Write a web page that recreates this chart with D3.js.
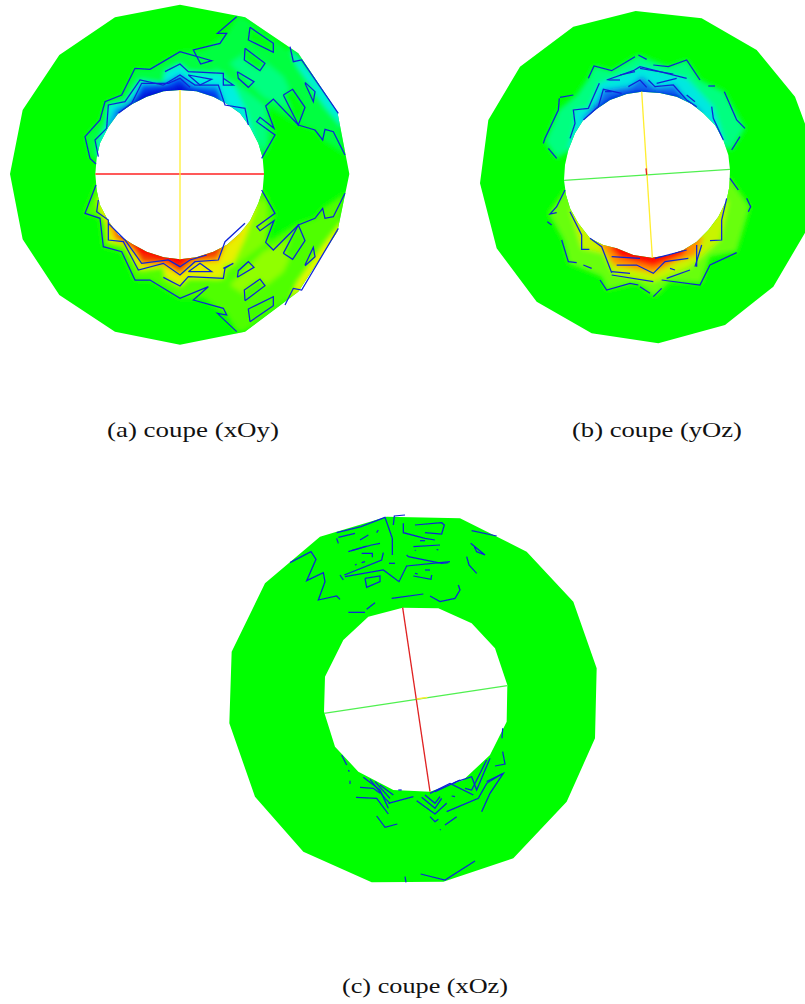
<!DOCTYPE html>
<html><head><meta charset="utf-8">
<script src="https://cdn.jsdelivr.net/npm/d3@7"></script>
<style>html,body{margin:0;padding:0;background:#fff;overflow:hidden}svg{display:block}</style>
</head><body><svg id="c" width="805" height="1004"></svg>
<script>
// ---------- Panel (a) section xOy, values in image-sample units ----------
const aOuter=[[540,14],[735,52],[895,160],[1012,335],[1048,522],[1012,695],[895,875],[735,995],[540,1034],[345,995],[178,885],[68,718],[30,522],[68,330],[178,165],[345,52]];
const aInner=[[540,270],[589,274],[640,290],[681,312],[720,340],[750,381],[775,430],[788,473],[792,522],[788,571],[775,610],[750,663],[720,700],[681,734],[640,755],[589,772],[540,778],[491,772],[440,755],[397,732],[355,705],[325,663],[300,615],[290,571],[286,522],[290,473],[300,430],[325,381],[355,340],[397,312],[440,290],[491,274]];
const aAxes=[{color:"#ff2020",from:[286,522],to:[792,522]},{color:"#ffee30",from:[540,270],to:[540,778]}];
const aBands=[
 {color:"#00ff40",poly:[[710,50],[680,100],[610,150],[540,155],[450,208],[405,205],[365,285],[315,305],[300,360],[255,410],[270,475],[785,475],[825,405],[800,318],[895,375],[945,390],[968,420],[1035,465],[1015,340],[905,180],[735,52]]},
 {color:"#00f0d8",poly:[[870,140],[905,180],[1030,340],[1030,385],[975,320],[890,195]]},
 {color:"#00ff80",poly:[[690,190],[790,290],[900,340],[850,230],[750,150]]},
 {color:"#00ff80",poly:[[640,200],[800,320],[800,460],[700,330]]},
 {color:"#00f0e0",poly:[[295,475],[295,425],[320,370],[325,315],[375,305],[420,240],[490,250],[495,215],[540,192],[565,215],[670,222],[672,255],[700,255],[735,325],[775,450],[680,400],[540,350],[400,400]]},
 {color:"#0098f0",poly:[[320,385],[345,325],[395,310],[425,250],[490,250],[540,222],[585,255],[655,255],[675,315],[720,340],[660,380],[540,340],[420,380]]},
 {color:"#0040f0",poly:[[345,345],[395,300],[425,258],[505,250],[540,232],[570,258],[650,270],[670,305],[640,340],[540,330],[420,380]]},
 {color:"#0010d8",poly:[[360,338],[405,298],[440,275],[520,262],[540,250],[565,268],[640,290],[640,340],[540,330],[440,350]]},
 {color:"#00ff10",poly:[[750,82],[820,130],[820,157],[745,120]]},
 {color:"#00ff10",poly:[[735,145],[795,190],[780,212],[733,180]]},
 {color:"#00ff10",poly:[[850,285],[878,268],[915,322],[895,375]]},
 {color:"#50ff00",poly:[[710,995],[680,945],[610,895],[540,895],[450,840],[405,840],[365,755],[310,740],[300,655],[255,640],[288,555],[785,570],[825,640],[800,726],[895,670],[945,655],[968,625],[1035,580],[1015,700],[905,870],[735,995]]},
 {color:"#e8f800",poly:[[870,905],[905,870],[1030,700],[1030,660],[975,730],[890,850]]},
 {color:"#90ff00",poly:[[690,855],[790,755],[900,705],[850,815],[750,895]]},
 {color:"#80ff00",poly:[[640,845],[800,725],[800,585],[700,715]]},
 {color:"#e8f000",poly:[[295,590],[295,620],[320,675],[325,725],[375,735],[420,810],[490,800],[495,832],[540,858],[565,835],[670,835],[672,795],[700,790],[735,715],[775,600],[680,640],[540,700],[400,640]]},
 {color:"#ff9000",poly:[[320,655],[345,720],[395,735],[425,795],[490,795],[540,825],[585,785],[655,785],[675,735],[720,700],[660,660],[540,700],[420,660]]},
 {color:"#f04000",poly:[[345,700],[395,745],[425,785],[505,790],[540,815],[570,785],[650,770],[670,740],[640,700],[540,710],[420,660]]},
 {color:"#ff0000",poly:[[380,722],[420,762],[470,775],[540,800],[565,776],[640,756],[640,700],[540,710],[440,690]]},
 {color:"#40ff00",poly:[[750,965],[820,917],[820,890],[745,927]]},
 {color:"#40ff00",poly:[[735,902],[795,857],[780,837],[733,870]]},
 {color:"#40ff00",poly:[[850,760],[878,778],[915,722],[895,675]]}
];
const aContours=[
 [[288,492],[270,475],[255,410],[300,360],[315,305],[365,285],[405,205],[450,208],[540,155],[635,182],[602,192],[580,150],[660,130],[680,100],[652,100],[710,50]],
 [[295,470],[285,420],[320,385],[325,315],[375,305],[420,240],[490,255],[540,225],[585,255],[655,255],[675,315],[735,325],[745,375]],
 [[495,215],[540,192],[565,215],[670,220],[670,255],[700,255],[670,235]],
 [[355,340],[395,310],[425,250],[505,250],[540,235],[570,262]],
 [[565,225],[635,238],[600,255],[565,225]],
 [[750,82],[820,130],[820,157],[745,120],[750,82]],
 [[735,145],[795,190],[780,212],[733,180],[735,145]],
 [[712,215],[762,245],[745,262],[715,235],[712,215]],
 [[915,247],[945,275],[940,305],[915,250]],
 [[850,285],[878,268],[915,322],[895,375],[850,285]],
 [[785,475],[825,405],[770,365],[780,352],[822,385],[797,318],[820,297],[895,375],[945,390],[968,420],[975,388],[1000,395],[1035,465]],
 [[870,140],[880,185],[905,180],[1015,340]],
 [[288,555],[255,640],[300,655],[310,740],[365,755],[405,840],[450,840],[540,895],[625,860],[580,900],[670,925],[680,945],[652,940],[710,995]],
 [[295,600],[290,635],[325,660],[325,720],[370,725],[415,810],[490,790],[540,825],[585,785],[655,780],[675,725],[735,670]],
 [[490,832],[540,858],[565,830],[670,835],[675,805],[700,790],[670,805]],
 [[325,670],[375,720],[425,790],[505,780],[540,800],[570,780],[620,765]],
 [[565,815],[635,815],[600,790],[565,815]],
 [[750,965],[820,917],[820,890],[745,927],[750,965]],
 [[735,902],[795,857],[780,837],[733,870],[735,902]],
 [[712,832],[762,802],[745,785],[715,812],[712,832]],
 [[915,797],[945,770],[940,742],[915,795]],
 [[850,760],[878,778],[915,722],[895,675],[850,760]],
 [[785,570],[825,640],[770,680],[780,692],[822,662],[797,727],[820,750],[895,675],[945,655],[968,625],[975,655],[1000,650],[1035,580]],
 [[855,915],[880,865],[905,870],[1015,685]]
];
// ---------- Panel (b) section yOz ----------
const bOuter=[[497,33],[695,55],[860,150],[975,290],[1010,385],[1010,690],[910,860],[765,975],[565,1030],[365,1000],[200,905],[80,745],[30,550],[55,360],[150,200],[310,80]];
const bInner=[[515,275],[570,279],[620,290],[665,312],[700,340],[735,375],[760,420],[775,465],[780,510],[778,560],[770,600],[745,650],[715,690],[680,725],[640,750],[595,766],[545,773],[490,765],[440,745],[400,735],[360,715],[325,670],[300,625],[288,585],[282,540],[285,495],[295,450],[315,400],[340,360],[380,327],[420,300],[470,282]];
const bAxes=[{color:"#50f050",from:[282,541],to:[780,508]},{color:"#ffee30",from:[515,275],to:[547,773]},{color:"#e02020",from:[528,505],to:[530,525]}];
const bBands=[
 {color:"#00ff80",poly:[[260,475],[225,425],[265,330],[320,285],[355,235],[372,198],[425,212],[505,165],[595,200],[650,180],[690,240],[763,275],[825,385],[785,450],[700,420],[515,400],[340,430]]},
 {color:"#00e8e0",poly:[[295,450],[315,375],[315,330],[355,325],[388,250],[490,212],[510,200],[650,235],[730,320],[765,430],[680,400],[515,350],[360,420]]},
 {color:"#1070f0",poly:[[335,360],[385,300],[400,270],[480,258],[515,230],[555,262],[615,255],[650,300],[700,340],[620,360],[515,340],[400,380]]},
 {color:"#0028e0",poly:[[370,330],[420,290],[505,268],[620,282],[690,335],[620,350],[515,330],[400,370]]},
 {color:"#68ff10",poly:[[285,570],[235,640],[280,720],[295,790],[395,830],[410,870],[500,850],[555,890],[600,845],[695,850],[720,770],[800,755],[840,620],[780,535],[700,600],[545,640],[360,620]]},
 {color:"#c8f400",poly:[[300,625],[335,745],[400,760],[430,820],[550,845],[660,800],[750,720],[775,600],[680,660],[545,700],[380,660]]},
 {color:"#ff9000",poly:[[390,735],[430,795],[550,820],[620,785],[680,765],[700,710],[640,700],[545,710],[440,690]]},
 {color:"#ff1000",poly:[[420,745],[450,775],[550,800],[640,765],[650,740],[640,700],[545,710],[440,700]]}
];
const bContours=[
 [[260,475],[235,445]],[[220,430],[225,415],[265,330],[268,295]],[[270,292],[310,285]],[[355,235],[372,198],[425,212],[495,170]],[[505,165],[530,178]],[[550,195],[595,200],[650,180],[660,195],[690,240]],[[715,258],[735,258]],[[763,275],[800,360],[825,385]],[[810,410],[785,450]],
 [[300,415],[315,370],[310,330],[355,325],[388,250]],[[410,240],[490,212],[510,200],[650,235]],[[510,205],[610,222]],
 [[340,360],[385,320],[400,268],[455,280]],[[405,275],[425,275]],[[475,260],[510,240],[530,262]],[[535,240],[555,260],[610,255],[650,300],[680,320]],[[415,240],[450,240]],[[450,225],[495,215]],[[560,250],[620,235]],[[650,285],[675,305]],
 [[725,320],[730,355],[760,420]],
 [[285,570],[260,620],[240,642],[260,638]],[[232,665],[245,675]],[[300,635],[335,705],[335,748],[358,748]],[[275,720],[295,785],[320,788]],[[340,795],[365,805]],
 [[360,715],[395,740],[425,818]],[[425,825],[550,845]],[[390,840],[410,870],[480,850],[505,855]],[[510,860],[540,880]],[[550,890],[575,865]],[[575,840],[690,855],[720,795],[800,758]],
 [[770,595],[755,660],[755,720],[720,722]],[[805,570],[780,535]],[[830,595],[842,620],[835,635]],
 [[425,770],[510,775]],[[440,795],[500,795],[550,820],[585,785],[655,775]],[[425,815],[480,820]],[[590,835],[660,810]],[[600,805],[615,810]],[[680,735],[680,800]],[[695,735],[675,800]],[[555,775],[650,750]]
];
// ---------- Panel (c) section xOz ----------
const cOuter=[[500,35],[720,40],[920,140],[1060,290],[1130,490],[1125,700],[1040,890],[880,1060],[670,1130],[455,1132],[250,1040],[105,875],[28,655],[35,440],[135,235],[300,95]];
const cInner=[[548,308],[655,310],[755,355],[825,430],[862,540],[860,650],[810,750],[730,825],[630,860],[520,855],[415,800],[345,725],[312,620],[315,515],[370,405],[445,335]];
const cAxes=[{color:"#50f050",from:[312,625],to:[862,542]},{color:"#e02020",from:[548,308],to:[630,860]},{color:"#ffee30",from:[590,582],to:[622,577]}];
const cBands=[];
const cContours=[
 [[210,173],[273,140],[288,163],[260,227],[310,203],[315,230],[295,285],[350,273],[360,283]],
 [[350,83],[423,65],[495,37],[517,100],[517,150]],[[520,60],[523,33],[555,30]],
 [[550,55],[550,83],[615,100],[645,105]],[[585,60],[665,53],[673,60],[665,87],[615,83]],
 [[350,100],[355,115]],[[355,97],[405,85]],[[385,140],[440,123]],[[420,105],[445,90]],[[475,75],[470,83]],
 [[395,137],[455,120],[480,115]],[[425,145],[457,145],[457,157]],[[405,180],[410,178]],[[425,173],[435,170]],
 [[373,210],[485,165],[490,143]],[[360,210],[370,225]],[[375,215],[490,195],[537,230],[560,183],[690,170]],
 [[560,150],[565,155],[665,175],[685,173]],[[580,125],[660,120]],[[600,107],[615,107]],[[585,135],[587,137]],[[650,133],[655,135]],
 [[507,175],[525,175]],[[435,220],[480,213],[480,230],[440,247],[435,220]],
 [[580,213],[633,223],[635,210]],[[615,195],[630,195]],[[585,205],[593,207]],
 [[515,280],[610,267]],[[630,273],[660,290],[705,280],[720,255],[715,240]],[[440,313],[465,293]],[[385,322],[435,322]],
 [[755,77],[830,93]],[[752,115],[795,150],[770,140],[763,125]],[[740,155],[747,180],[770,205]],
 [[420,847],[460,850],[480,865]],[[408,877],[470,880],[505,927]],[[430,817],[480,855],[505,910]],[[450,823],[495,880],[510,895]],[[465,830],[510,880]],[[480,840],[520,870]],
 [[390,827],[390,837]],[[365,750],[380,780]],[[385,795],[388,800]],[[470,933],[490,960],[495,967],[532,957]],
 [[505,895],[580,875]],[[535,855],[545,855]],
 [[590,887],[645,927],[680,895]],[[605,877],[645,910],[665,880]],[[615,870],[645,895],[660,875]],[[630,935],[645,950],[655,943]],
 [[680,920],[775,880],[800,835],[845,807]],[[800,830],[850,805],[810,865],[785,920]],
 [[630,865],[690,835],[760,870]],[[645,860],[710,830],[755,815],[770,855],[810,760]],[[735,850],[755,855],[800,765]],[[720,825],[700,835]],[[695,873],[705,875]],
 [[675,960],[710,935]],[[660,973],[662,975]],[[825,783],[855,777],[848,740]],[[848,670],[846,700]],
 [[555,1115],[558,1132]],[[602,1107],[675,1125],[765,1068]]
];
// ---------- Captions ----------
const captionLabels=["(a) coupe (xOy)","(b) coupe (yOz)","(c) coupe (xOz)"];
const captionX=[107,572,342];
const captionY=[437,437,993];
const captionWidth=[172,170,166];

const svg=d3.select("#c");
const defs=svg.append("defs");
defs.append("filter").attr("id","soft").attr("x","-10%").attr("y","-10%").attr("width","120%").attr("height","120%")
  .append("feGaussianBlur").attr("stdDeviation",2.6);
defs.append("filter").attr("id","scan").attr("x","-5%").attr("y","-5%").attr("width","110%").attr("height","110%")
  .append("feGaussianBlur").attr("stdDeviation",0.45);

function panel(id,dx,dy,uMaxX,uMaxY,outer,inner,axes,bands,contours){
  const x=d3.scaleLinear().domain([0,uMaxX]).range([dx,dx+uMaxX/3]);
  const y=d3.scaleLinear().domain([0,uMaxY]).range([dy,dy+uMaxY/3]);
  const closed=d3.line().x(d=>x(d[0])).y(d=>y(d[1])).curve(d3.curveLinearClosed);
  const open=d3.line().x(d=>x(d[0])).y(d=>y(d[1]));
  const ring=closed(outer)+closed(inner);
  defs.append("clipPath").attr("id",id).append("path").attr("d",ring).attr("clip-rule","evenodd");
  const g=svg.append("g").attr("filter","url(#scan)");
  g.append("path").attr("d",ring).attr("fill","#00ff00").attr("fill-rule","evenodd");
  const clipped=g.append("g").attr("clip-path",`url(#${id})`);
  clipped.append("g").attr("filter","url(#soft)").selectAll("path").data(bands).join("path")
    .attr("d",d=>closed(d.poly)).attr("fill",d=>d.color);
  g.append("g").selectAll("path").data(contours).join("path")
    .attr("d",d=>open(d)).attr("fill","none").attr("stroke","#0c24d8").attr("stroke-width",1.25);
  g.append("g").selectAll("line").data(axes).join("line")
    .attr("x1",d=>x(d.from[0])).attr("y1",d=>y(d.from[1]))
    .attr("x2",d=>x(d.to[0])).attr("y2",d=>y(d.to[1]))
    .attr("stroke",d=>d.color).attr("stroke-width",1.3);
}
panel("clipA",0,0,1080,1080,aOuter,aInner,aAxes,aBands,aContours);
panel("clipB",470,0,1005,1080,bOuter,bInner,bAxes,bBands,bContours);
panel("clipC",220,505,1155,1155,cOuter,cInner,cAxes,cBands,cContours);

svg.selectAll("text.cap").data(captionLabels).join("text").attr("class","cap")
  .attr("x",(d,i)=>captionX[i]).attr("y",(d,i)=>captionY[i])
  .attr("font-family","'Liberation Serif',serif")
  .attr("font-size",22).attr("fill","#111")
  .attr("textLength",(d,i)=>captionWidth[i]).attr("lengthAdjust","spacingAndGlyphs").text(d=>d);
</script></body></html>
